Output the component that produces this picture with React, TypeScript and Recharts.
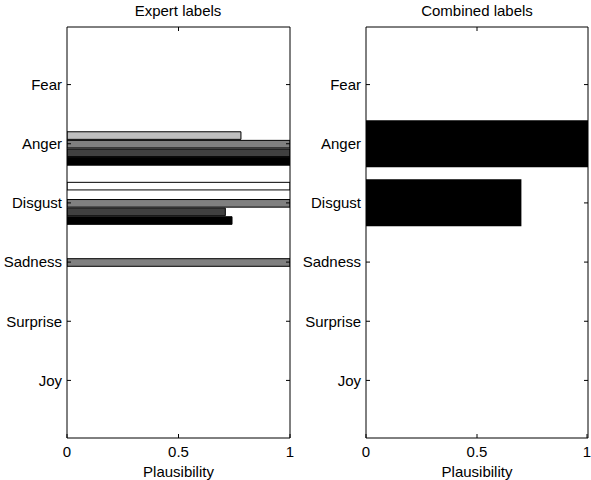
import { BarChart, Bar, XAxis, YAxis } from 'recharts';

const categories = ['Fear', 'Anger', 'Disgust', 'Sadness', 'Surprise', 'Joy'];
const expertA = [0, 0, 1, 0, 0, 0];
const expertB = [0, 0.78, 0, 0, 0, 0];
const expertC = [0, 1, 1, 1, 0, 0];
const expertD = [0, 1, 0.71, 0, 0, 0];
const expertE = [0, 1, 0.74, 0, 0, 0];
const combined = [0, 1, 0.7, 0, 0, 0];
const xTicks = [0, 0.5, 1];

const expertKeys = ['a', 'b', 'c', 'd', 'e'];
const expertFills = ['#ffffff', '#bfbfbf', '#808080', '#404040', '#000000'];

const expertData = categories.map((name, i) => ({
  name,
  a: expertA[i],
  b: expertB[i],
  c: expertC[i],
  d: expertD[i],
  e: expertE[i],
  zero: 0,
}));

const combinedData = categories.map((name, i) => ({ name, value: combined[i], zero: 0 }));

const FONT = '"Liberation Sans", Arial, sans-serif';
const FS = 15;

// ticks point into the plot, labels sit outside (matlab style)
const LeftTick = ({ x, y, payload }: any) => (
  <g>
    <line x1={x} x2={x + 4} y1={y} y2={y} stroke="#000" />
    <text x={x - 5} y={y} dy="0.355em" textAnchor="end" fontSize={FS} fontFamily={FONT} fill="#000">
      {payload.value}
    </text>
  </g>
);

const RightTick = ({ x, y }: any) => <line x1={x} x2={x - 4} y1={y} y2={y} stroke="#000" />;

const BottomTick = ({ x, y, payload }: any) => (
  <g>
    <line x1={x} x2={x} y1={y} y2={y - 4} stroke="#000" />
    <text x={x} y={y + 8} dy="0.71em" textAnchor="middle" fontSize={FS} fontFamily={FONT} fill="#000">
      {payload.value}
    </text>
  </g>
);

const TopTick = ({ x, y }: any) => <line x1={x} x2={x} y1={y} y2={y + 4} stroke="#000" />;

interface PanelProps {
  data: any[];
  width: number;
  margin: { top: number; right: number; bottom: number; left: number };
  children: any;
  barSize: number;
}

const Panel = ({ data, width, margin, children, barSize }: PanelProps) => (
  <BarChart width={width} height={480} data={data} layout="vertical" margin={margin} barSize={barSize} barGap={1}>
    <XAxis
      xAxisId="b"
      type="number"
      domain={[0, 1]}
      ticks={xTicks}
      allowDataOverflow
      height={42}
      tickSize={0}
      tickMargin={0}
      tick={<BottomTick />}
      axisLine={{ stroke: '#000' }}
      label={{ value: 'Plausibility', position: 'insideBottom', offset: 3, fontSize: FS, fontFamily: FONT, fill: '#000' }}
    />
    <XAxis
      xAxisId="t"
      orientation="top"
      type="number"
      domain={[0, 1]}
      ticks={[0.5]}
      allowDataOverflow
      height={1}
      tickSize={0}
      tickMargin={0}
      tick={<TopTick />}
      axisLine={{ stroke: '#000' }}
    />
    <YAxis
      yAxisId="l"
      type="category"
      dataKey="name"
      width={60}
      padding={{ top: 28, bottom: 28 }}
      tickSize={0}
      tickMargin={0}
      tick={<LeftTick />}
      axisLine={{ stroke: '#000' }}
    />
    <YAxis
      yAxisId="r"
      orientation="right"
      type="category"
      dataKey="name"
      width={1}
      padding={{ top: 28, bottom: 28 }}
      tickSize={0}
      tickMargin={0}
      tick={<RightTick />}
      axisLine={{ stroke: '#000' }}
    />
    {/* empty series so the top/right axes (the box) get drawn */}
    <Bar dataKey="zero" xAxisId="t" yAxisId="r" isAnimationActive={false} />
    {children}
  </BarChart>
);

const Title = ({ text, left }: { text: string; left: number }) => (
  <div
    style={{
      position: 'absolute',
      top: 2,
      left: left - 100,
      width: 200,
      textAlign: 'center',
      fontFamily: FONT,
      fontSize: FS,
      color: '#000',
    }}
  >
    {text}
  </div>
);

export default function App() {
  return (
    <div style={{ position: 'absolute', left: 0, top: 0, width: 591, height: 480, background: '#fff' }}>
      <div style={{ position: 'absolute', left: 0, top: 0 }}>
        <Panel data={expertData} width={300} margin={{ top: 26, right: 9, bottom: 0, left: 7 }} barSize={7.6}>
          {expertKeys.map((k, i) => (
            <Bar
              key={k}
              dataKey={k}
              xAxisId="b"
              yAxisId="l"
              fill={expertFills[i]}
              stroke="#000"
              strokeWidth={1}
              isAnimationActive={false}
            />
          ))}
        </Panel>
      </div>
      <div style={{ position: 'absolute', left: 300, top: 0 }}>
        <Panel data={combinedData} width={291} margin={{ top: 26, right: 2, bottom: 0, left: 6 }} barSize={47}>
          <Bar dataKey="value" xAxisId="b" yAxisId="l" fill="#000" isAnimationActive={false} />
        </Panel>
      </div>
      <Title text="Expert labels" left={178} />
      <Title text="Combined labels" left={477} />
    </div>
  );
}
